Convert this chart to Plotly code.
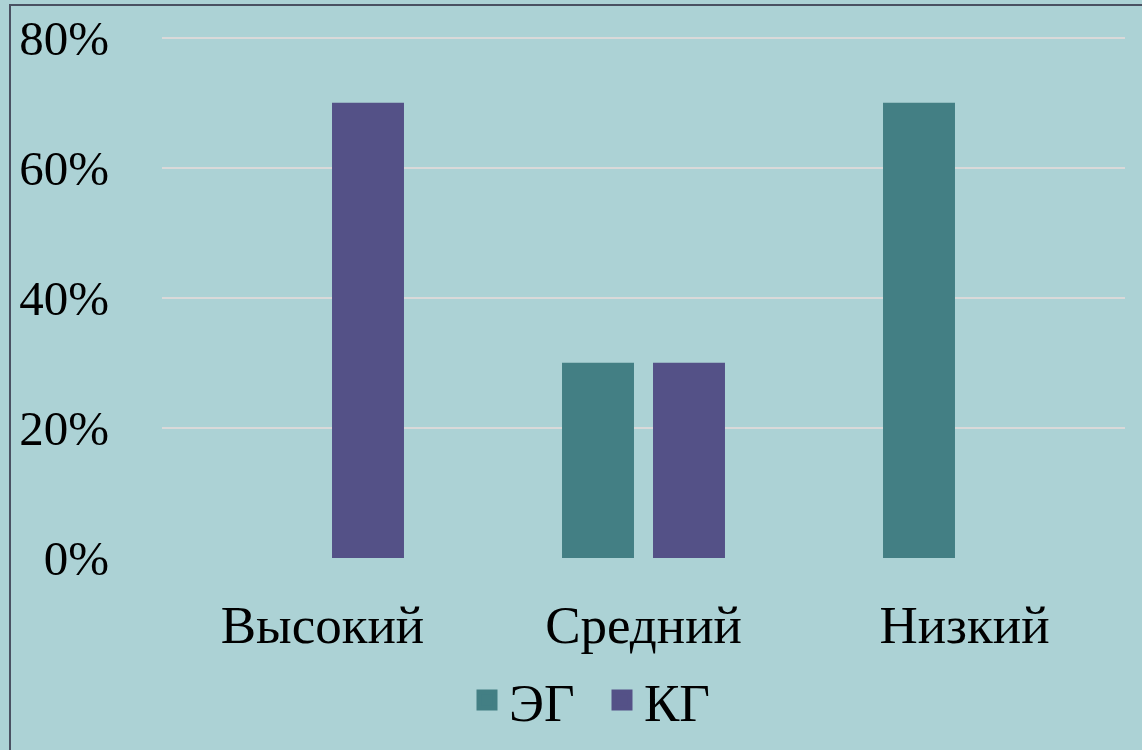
import plotly.graph_objects as go

categories = ["Высокий", "Средний", "Низкий"]
series_names = ["ЭГ", "КГ"]
eg_values = [0, 30, 70]
kg_values = [70, 30, 0]
y_ticks = [0, 20, 40, 60, 80]
y_tick_labels = ["0%", "20%", "40%", "60%", "80%"]

EG_COLOR = "#437f84"
KG_COLOR = "#545187"
BG = "#acd2d5"
FONT = "Liberation Serif"


def hide_zero(vals):
    return [v if v != 0 else None for v in vals]


fig = go.Figure()
fig.add_trace(go.Bar(x=categories, y=hide_zero(eg_values), name=series_names[0],
                     marker=dict(color=EG_COLOR, line=dict(width=0)), showlegend=False))
fig.add_trace(go.Bar(x=categories, y=hide_zero(kg_values), name=series_names[1],
                     marker=dict(color=KG_COLOR, line=dict(width=0)), showlegend=False))
# legend proxies with larger square swatches
for nm, col in zip(series_names, [EG_COLOR, KG_COLOR]):
    fig.add_trace(go.Scatter(x=[None], y=[None], mode="markers", name=nm,
                             marker=dict(symbol="square", size=22, color=col,
                                         line=dict(color=col, width=5))))

W, H = 1142, 750
ymax = 80.4
top80, bottom0 = 38, 558           # pixel rows of the 80% and 0% gridlines
ml, mr = 162, 17
px_per_unit = (bottom0 - top80) / 80
mt = top80 - (ymax - 80) * px_per_unit
mb = H - bottom0
pw, ph = W - ml - mr, H - mt - mb


def py(ypix):
    return (mt + ph - ypix) / ph


fig.update_layout(
    width=W, height=H,
    margin=dict(l=ml, r=mr, t=mt, b=mb, autoexpand=False),
    paper_bgcolor=BG, plot_bgcolor=BG,
    font=dict(family=FONT, size=52, color="black"),
    barmode="group", bargap=0.433, bargroupgap=0.209,
    showlegend=True,
    legend=dict(orientation="h", x=(600 - ml) / pw, xanchor="center",
                y=py(700), yanchor="middle",
                bgcolor="rgba(0,0,0,0)", font=dict(size=53, family=FONT),
                itemwidth=34, tracegroupgap=0,
                entrywidth=86, entrywidthmode="pixels"),
    xaxis=dict(showgrid=False, zeroline=False, showline=False, ticks="",
               ticklabelstandoff=31, tickfont=dict(size=53, family=FONT)),
    yaxis=dict(range=[0, ymax], tickvals=y_ticks, ticktext=y_tick_labels,
               showgrid=True, gridcolor="#d9d9d9", gridwidth=2,
               zeroline=False, showline=False, ticks="",
               ticklabelstandoff=52, tickfont=dict(size=49, family=FONT)),
    shapes=[
        dict(type="rect", xref="paper", yref="paper",
             x0=(10 - ml) / pw, x1=(W + 20 - ml) / pw,
             y0=py(H + 20), y1=py(5.5),
             line=dict(color="#4a5162", width=2), fillcolor="rgba(0,0,0,0)",
             layer="above"),
    ],
)

fig.write_html("out.html",
               config={"displayModeBar": False},
               post_script="document.body.style.margin='0';document.body.style.overflow='hidden';")
